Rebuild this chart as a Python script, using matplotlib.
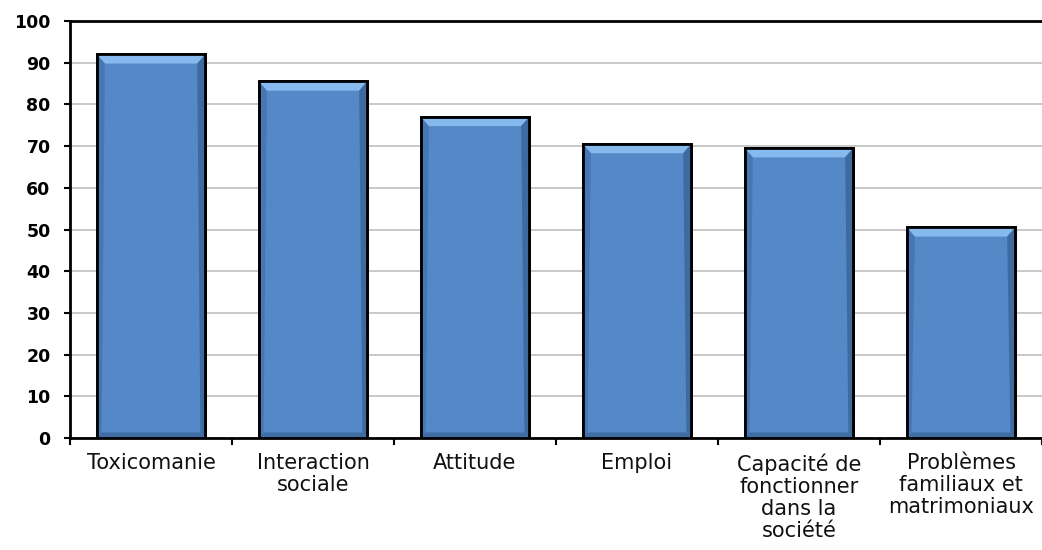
import matplotlib
matplotlib.use("Agg")
import matplotlib.pyplot as plt
from matplotlib.patches import Polygon
import numpy as np

categories = ["Toxicomanie", "Interaction\nsociale", "Attitude", "Emploi",
              "Capacité de\nfonctionner\ndans la\nsociété",
              "Problèmes\nfamiliaux et\nmatrimoniaux"]
values = [92, 85.5, 77, 70.5, 69.5, 50.5]
y_ticks = [0, 10, 20, 30, 40, 50, 60, 70, 80, 90, 100]

fig = plt.figure(figsize=(10.42, 5.5), dpi=100)
ax = fig.add_axes([0.0672, 0.2036, 0.9328, 0.7582])

x = np.arange(len(categories))
width = 0.67
ax.bar(x, values, width=width, color="#5588C7", edgecolor="black",
       linewidth=2, zorder=3)

# bevel shading on each bar: light top strip, darker sides and base
bev_x = 0.05
bev_y = 2.2
for xi, v in zip(x, values):
    l, r = xi - width / 2, xi + width / 2
    ax.add_patch(Polygon([(l, v), (r, v), (r - bev_x, v - bev_y), (l + bev_x, v - bev_y)],
                         closed=True, facecolor="#86B9EE", edgecolor="none", zorder=4))
    ax.add_patch(Polygon([(r, v), (r, 0), (r - bev_x * 0.6, bev_y * 0.6), (r - bev_x, v - bev_y)],
                         closed=True, facecolor="#3E6A9F", edgecolor="none", zorder=4))
    ax.add_patch(Polygon([(l, v), (l, 0), (l + bev_x * 0.6, bev_y * 0.6), (l + bev_x, v - bev_y)],
                         closed=True, facecolor="#4677B3", edgecolor="none", zorder=4))
    ax.add_patch(Polygon([(l, 0), (r, 0), (r - bev_x * 0.6, bev_y * 0.6), (l + bev_x * 0.6, bev_y * 0.6)],
                         closed=True, facecolor="#3F6CA3", edgecolor="none", zorder=4))
    ax.bar(xi, v, width=width, facecolor="none", edgecolor="black", linewidth=2, zorder=5)

ax.set_xlim(-0.5, len(categories) - 0.5)
ax.set_ylim(0, 100)
ax.set_yticks(y_ticks)
ax.set_yticklabels([str(t) for t in y_ticks], fontsize=12.5, fontweight="bold",
                   family="DejaVu Sans")
ax.yaxis.grid(True, color="#BFBFBF", linewidth=1.2, zorder=0)
ax.set_axisbelow(True)

ax.set_xticks(x)
ax.set_xticklabels(categories, fontsize=15, family="DejaVu Sans",
                   fontweight="medium", linespacing=1.13, color="#111111")
ax.tick_params(axis="x", length=0, pad=11)
ax.set_xticks(np.arange(-0.5, len(categories)), minor=True)
ax.tick_params(axis="x", which="minor", length=5, width=1.5, direction="out")
ax.tick_params(axis="y", length=4, width=1.5, direction="out", pad=10)

for side in ["left", "bottom", "top"]:
    ax.spines[side].set_color("black")
    ax.spines[side].set_linewidth(2)
ax.spines["right"].set_visible(False)

fig.savefig("out.png", dpi=100)
